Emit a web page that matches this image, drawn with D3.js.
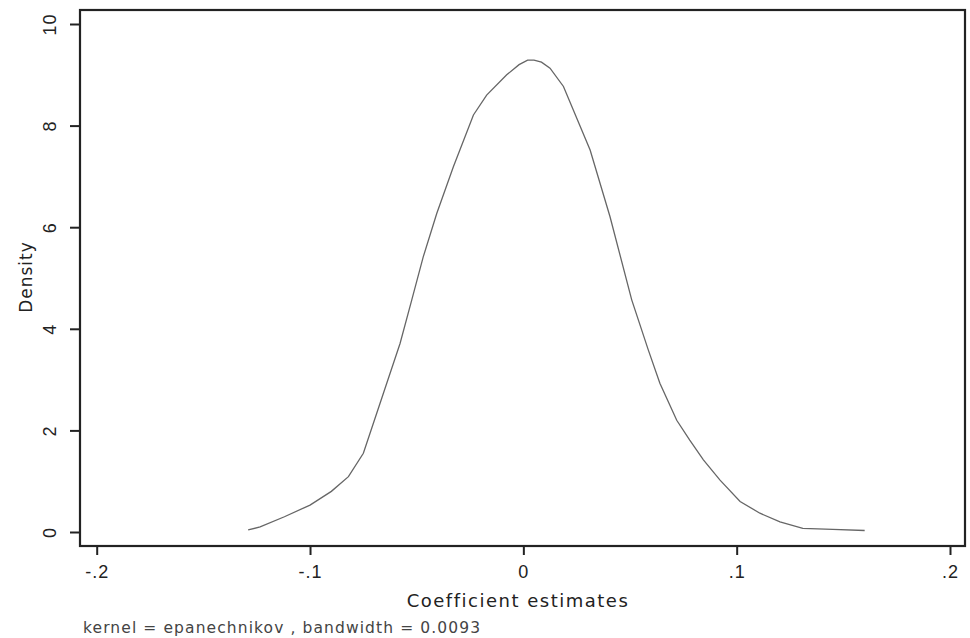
<meta charset="utf-8">
<head>
<script src="https://d3js.org/d3.v7.min.js"></script>
<style>
  body { margin: 0; background: #fff; }
  text { font-family: "DejaVu Sans", Verdana, sans-serif; }
</style>
</head>
<body>
<div id="container"></div>
<script>

// kernel density estimate
var coefX = [-0.129, -0.1234, -0.112, -0.1, -0.09, -0.082, -0.075, -0.0656, -0.0578, -0.0523,
             -0.0469, -0.0406, -0.0328, -0.0234, -0.0172, -0.0078, -0.002, 0.002, 0.005, 0.0085,
             0.0125, 0.0188, 0.0313, 0.0406, 0.0508, 0.0586, 0.064, 0.0719, 0.078, 0.0844,
             0.0922, 0.1016, 0.1109, 0.1203, 0.131, 0.145, 0.16];
var density = [0.04, 0.10, 0.30, 0.53, 0.80, 1.09, 1.55, 2.73, 3.71, 4.57,
               5.42, 6.27, 7.19, 8.21, 8.6, 9.0, 9.2, 9.29, 9.29, 9.25,
               9.13, 8.77, 7.52, 6.21, 4.57, 3.58, 2.93, 2.20, 1.81, 1.42,
               1.02, 0.60, 0.37, 0.20, 0.07, 0.05, 0.03];

var xTicks = [-0.2, -0.1, 0, 0.1, 0.2];
var xTickLabels = ["-.2", "-.1", "0", ".1", ".2"];
var yTicks = [0, 2, 4, 6, 8, 10];

var width = 970, height = 638;
var box = {left: 80, top: 10, right: 965, bottom: 546};

var svg = d3.select('#container')
  .append('svg')
  .attr('width', width)
  .attr('height', height);

var x = d3.scaleLinear().domain([-0.2, 0.2]).range([96.7, 950]);
var y = d3.scaleLinear().domain([0, 10]).range([532, 24]);

// plot region frame
svg.append('rect')
  .attr('x', box.left).attr('y', box.top)
  .attr('width', box.right - box.left)
  .attr('height', box.bottom - box.top)
  .attr('fill', 'none')
  .attr('stroke', '#222')
  .attr('stroke-width', 2.2);

// axes
var xAxis = d3.axisBottom(x)
  .tickValues(xTicks)
  .tickFormat(function(d, i) { return xTickLabels[i]; })
  .tickSize(9).tickPadding(10);
var gx = svg.append('g')
  .attr('transform', 'translate(0,' + box.bottom + ')')
  .call(xAxis);

var yAxis = d3.axisLeft(y)
  .tickValues(yTicks)
  .tickFormat(d3.format('d'))
  .tickSize(10).tickPadding(8);
var gy = svg.append('g')
  .attr('transform', 'translate(' + box.left + ',0)')
  .call(yAxis);

gx.select('.domain').remove();
gy.select('.domain').remove();
svg.selectAll('.tick line').attr('stroke', '#222').attr('stroke-width', 2);
svg.selectAll('.tick text').attr('fill', '#222').style('font-size', '18px')
  .style('font-family', '"Liberation Sans", Arial, sans-serif')
  .style('letter-spacing', '1px');

// y tick labels are rotated like stata does it
gy.selectAll('.tick text')
  .attr('x', null).attr('dy', null)
  .attr('transform', 'translate(-30,0) rotate(-90)')
  .attr('text-anchor', 'middle')
  .attr('dy', '0.35em');

// the density line
var line = d3.line()
  .x(function(d, i) { return x(coefX[i]); })
  .y(function(d) { return y(d); });

svg.append('path')
  .datum(density)
  .attr('d', line)
  .attr('fill', 'none')
  .attr('stroke', '#666')
  .attr('stroke-width', 1.3);

// titles
svg.append('text')
  .attr('x', 518).attr('y', 607)
  .attr('text-anchor', 'middle')
  .style('font-size', '18px')
  .style('letter-spacing', '1.5px')
  .attr('fill', '#222')
  .text('Coefficient estimates');

svg.append('text')
  .attr('transform', 'translate(32,277) rotate(-90)')
  .attr('text-anchor', 'middle')
  .style('font-size', '17px')
  .style('letter-spacing', '1px')
  .attr('fill', '#222')
  .text('Density');

svg.append('text')
  .attr('x', 83).attr('y', 633)
  .style('font-size', '15.5px')
  .style('letter-spacing', '1.1px')
  .attr('fill', '#444')
  .text('kernel = epanechnikov , bandwidth = 0.0093');

</script>
</body>
